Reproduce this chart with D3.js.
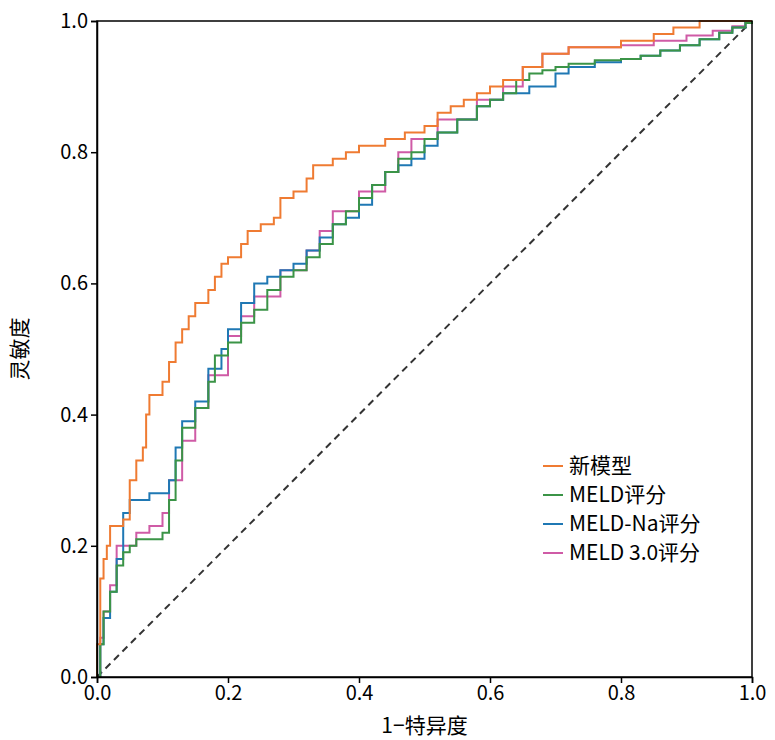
<!DOCTYPE html>
<html><head><meta charset="utf-8">
<script src="https://cdn.jsdelivr.net/npm/d3@7"></script>
<style>body{margin:0;background:#fff}text{font-family:"Noto Sans CJK SC","Noto Sans",sans-serif}</style>
</head><body><svg id="c" width="775" height="740"></svg>
<script>
const seriesNames = ["新模型", "MELD评分", "MELD-Na评分", "MELD 3.0评分"];
const colors = ["#ef7b32", "#3b9447", "#1f78b4", "#cf5ba6"];
const ticks = [0, 0.2, 0.4, 0.6, 0.8, 1.0];

const newModel = [[0,0],[0,0.05],[0.005,0.15],[0.01,0.18],[0.015,0.2],[0.02,0.23],[0.04,0.24],[0.05,0.3],[0.06,0.33],[0.07,0.35],[0.075,0.4],[0.08,0.43],[0.1,0.45],[0.11,0.48],[0.12,0.51],[0.13,0.53],[0.14,0.55],[0.15,0.57],[0.17,0.59],[0.18,0.61],[0.19,0.63],[0.2,0.64],[0.22,0.66],[0.23,0.68],[0.25,0.69],[0.27,0.7],[0.28,0.73],[0.3,0.74],[0.32,0.76],[0.33,0.78],[0.36,0.79],[0.38,0.8],[0.4,0.81],[0.44,0.82],[0.47,0.83],[0.5,0.84],[0.52,0.86],[0.54,0.87],[0.56,0.88],[0.58,0.89],[0.6,0.9],[0.62,0.91],[0.65,0.93],[0.68,0.95],[0.72,0.96],[0.8,0.97],[0.85,0.98],[0.88,0.99],[0.92,1.0],[1,1]];
const meld = [[0,0],[0.005,0.05],[0.01,0.1],[0.02,0.13],[0.03,0.17],[0.04,0.19],[0.05,0.2],[0.06,0.21],[0.08,0.21],[0.1,0.22],[0.11,0.27],[0.12,0.33],[0.13,0.38],[0.15,0.41],[0.17,0.45],[0.18,0.49],[0.2,0.51],[0.22,0.54],[0.24,0.56],[0.26,0.59],[0.28,0.61],[0.3,0.62],[0.32,0.64],[0.34,0.66],[0.36,0.69],[0.38,0.71],[0.4,0.73],[0.42,0.75],[0.44,0.77],[0.46,0.79],[0.48,0.8],[0.5,0.82],[0.52,0.83],[0.55,0.85],[0.58,0.87],[0.6,0.88],[0.62,0.89],[0.64,0.91],[0.66,0.92],[0.68,0.925],[0.7,0.93],[0.72,0.935],[0.76,0.94],[0.8,0.942],[0.83,0.947],[0.86,0.955],[0.89,0.963],[0.92,0.972],[0.95,0.982],[0.97,0.99],[0.99,0.997],[1,1]];
const meldNa = [[0,0],[0.005,0.05],[0.01,0.09],[0.02,0.13],[0.03,0.18],[0.04,0.25],[0.05,0.27],[0.08,0.28],[0.1,0.28],[0.11,0.3],[0.12,0.35],[0.13,0.39],[0.15,0.42],[0.17,0.47],[0.19,0.5],[0.2,0.53],[0.22,0.57],[0.24,0.6],[0.26,0.61],[0.28,0.62],[0.3,0.63],[0.32,0.65],[0.34,0.67],[0.36,0.69],[0.38,0.7],[0.4,0.72],[0.42,0.75],[0.44,0.77],[0.46,0.78],[0.48,0.79],[0.5,0.81],[0.52,0.83],[0.55,0.85],[0.58,0.87],[0.6,0.88],[0.62,0.89],[0.66,0.9],[0.7,0.92],[0.72,0.93],[0.76,0.937],[0.8,0.942],[0.83,0.947],[0.86,0.955],[0.89,0.963],[0.92,0.972],[0.95,0.982],[0.97,0.99],[0.99,0.997],[1,1]];
const meld3 = [[0,0],[0.005,0.06],[0.01,0.1],[0.02,0.14],[0.03,0.2],[0.06,0.22],[0.08,0.23],[0.1,0.25],[0.11,0.3],[0.13,0.36],[0.15,0.41],[0.17,0.46],[0.2,0.52],[0.22,0.55],[0.24,0.58],[0.28,0.62],[0.32,0.65],[0.34,0.68],[0.36,0.71],[0.4,0.74],[0.44,0.77],[0.46,0.8],[0.48,0.82],[0.52,0.85],[0.58,0.88],[0.62,0.9],[0.65,0.93],[0.68,0.95],[0.72,0.96],[0.8,0.963],[0.85,0.97],[0.9,0.978],[0.94,0.985],[0.97,0.992],[0.99,0.997],[1,1]];
const allSeries = [newModel, meld, meldNa, meld3];

const svg = d3.select("#c");
const x = d3.scaleLinear().domain([0,1]).range([97,752]);
const y = d3.scaleLinear().domain([0,1]).range([677,21]);

svg.append("line").attr("x1",x(0)).attr("y1",y(0)).attr("x2",x(1)).attr("y2",y(1))
  .attr("stroke","#333").attr("stroke-width",2).attr("stroke-dasharray","7,5");

const line = d3.line().x(d=>x(d[0])).y(d=>y(d[1])).curve(d3.curveStepAfter);
// draw in reverse so orange is on top
[3,2,1,0].forEach(i=>{
  svg.append("path").attr("d",line(allSeries[i])).attr("fill","none")
    .attr("stroke",colors[i]).attr("stroke-width",2);
});

const fmt = d3.format(".1f");
const xa = svg.append("g").attr("transform",`translate(0,${y(0)})`)
  .call(d3.axisBottom(x).tickValues(ticks).tickFormat(fmt).tickSize(6));
const ya = svg.append("g").attr("transform",`translate(${x(0)},0)`)
  .call(d3.axisLeft(y).tickValues(ticks).tickFormat(fmt).tickSize(6));
[xa,ya].forEach(a=>{a.selectAll("text").attr("font-size",20).attr("fill","#000");
  a.selectAll("line,path").attr("stroke","#000").attr("stroke-width",1.5);});
svg.append("rect").attr("x",x(0)).attr("y",y(1)).attr("width",x(1)-x(0)).attr("height",y(0)-y(1))
  .attr("fill","none").attr("stroke","#000").attr("stroke-width",1.5);

svg.append("text").attr("x",(x(0)+x(1))/2).attr("y",733).attr("text-anchor","middle")
  .attr("font-size",21).text("1−特异度");
svg.append("text").attr("transform",`translate(27,${(y(0)+y(1))/2}) rotate(-90)`)
  .attr("text-anchor","middle").attr("font-size",21).text("灵敏度");

const lg = svg.append("g").attr("transform","translate(543,466)");
seriesNames.forEach((n,i)=>{
  const g = lg.append("g").attr("transform",`translate(0,${i*29})`);
  g.append("line").attr("x1",0).attr("x2",20).attr("stroke",colors[i]).attr("stroke-width",2);
  g.append("text").attr("x",26).attr("y",7).attr("font-size",21).text(n);
});
</script></body></html>
